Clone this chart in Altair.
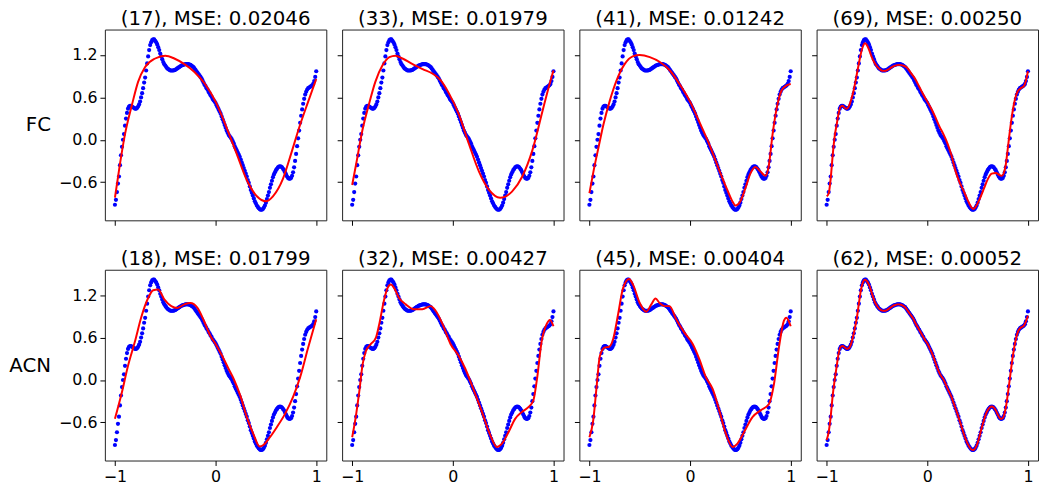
import altair as alt
import numpy as np
import pandas as pd

FONT = "DejaVu Sans"

titles = [
    "(17), MSE: 0.02046", "(33), MSE: 0.01979", "(41), MSE: 0.01242", "(69), MSE: 0.00250",
    "(18), MSE: 0.01799", "(32), MSE: 0.00427", "(45), MSE: 0.00404", "(62), MSE: 0.00052",
]
row_labels = ["FC", "ACN"]
x_ticks = [-1, 0, 1]
y_ticks = [-0.6, 0.0, 0.6, 1.2]

# target function samples (blue dots), x from -1 to 1 step 0.01
blue_y = [
    -0.92, -0.85, -0.74, -0.62, -0.52, -0.36, -0.22, -0.10, 0.00, 0.08,
    0.20, 0.30, 0.38, 0.44, 0.47, 0.48, 0.48, 0.47, 0.46, 0.45,
    0.44, 0.44, 0.45, 0.47, 0.50, 0.54, 0.60, 0.66, 0.73, 0.81,
    0.88, 0.98, 1.08, 1.18, 1.27, 1.34, 1.38, 1.41, 1.42, 1.42,
    1.40, 1.38, 1.35, 1.31, 1.27, 1.22, 1.18, 1.14, 1.10, 1.07,
    1.05, 1.03, 1.01, 1.00, 0.99, 0.98, 0.98, 0.98, 0.98, 0.985,
    0.99, 1.00, 1.01, 1.02, 1.03, 1.04, 1.05, 1.055, 1.06, 1.065,
    1.07, 1.07, 1.07, 1.07, 1.065, 1.06, 1.05, 1.04, 1.03, 1.01,
    0.99, 0.97, 0.95, 0.93, 0.91, 0.89, 0.87, 0.84, 0.81, 0.78,
    0.76, 0.73, 0.71, 0.68, 0.66, 0.63, 0.61, 0.58, 0.56, 0.54,
    0.52, 0.49, 0.46, 0.43, 0.40, 0.37, 0.33, 0.29, 0.25, 0.21,
    0.17, 0.13, 0.10, 0.07, 0.05, 0.03, 0.01, -0.02, -0.05, -0.09,
    -0.12, -0.15, -0.18, -0.21, -0.24, -0.28, -0.32, -0.36, -0.40, -0.44,
    -0.48, -0.52, -0.57, -0.61, -0.66, -0.71, -0.75, -0.79, -0.83, -0.87,
    -0.90, -0.93, -0.95, -0.97, -0.985, -0.99, -0.99, -0.98, -0.96, -0.93,
    -0.89, -0.84, -0.79, -0.74, -0.68, -0.63, -0.58, -0.53, -0.49, -0.46,
    -0.43, -0.41, -0.39, -0.38, -0.375, -0.38, -0.39, -0.41, -0.43, -0.46,
    -0.49, -0.52, -0.54, -0.55, -0.55, -0.54, -0.51, -0.46, -0.39, -0.30,
    -0.20, -0.09, 0.02, 0.13, 0.24, 0.34, 0.43, 0.51, 0.58, 0.64,
    0.68, 0.71, 0.73, 0.74, 0.75, 0.76, 0.77, 0.79, 0.83, 0.89, 0.97,
]
blue_x = np.round(np.linspace(-1, 1, len(blue_y)), 3)

# fitted curves (red)
red1_x = [-1, -0.95, -0.9, -0.83, -0.77, -0.70, -0.60, -0.50, -0.41, -0.31, -0.21, -0.11,
          0, 0.11, 0.21, 0.31, 0.41, 0.50, 0.57, 0.67, 0.75, 0.83, 0.92, 1.0]
red1_y = [-0.82, -0.34, 0.08, 0.50, 0.82, 1.03, 1.15, 1.19, 1.15, 1.07, 0.96, 0.80,
          0.54, 0.17, -0.20, -0.57, -0.80, -0.87, -0.80, -0.55, -0.20, 0.17, 0.54, 0.86]

red2_x = [-1, -0.96, -0.90, -0.83, -0.77, -0.70, -0.63, -0.57, -0.50, -0.40, -0.30, -0.20,
          -0.12, -0.04, 0.06, 0.16, 0.26, 0.36, 0.47, 0.59, 0.69, 0.79, 0.89, 0.95, 1.0]
red2_y = [-0.64, -0.34, 0.125, 0.52, 0.82, 1.05, 1.17, 1.19, 1.15, 1.07, 1.0, 0.935,
          0.84, 0.66, 0.36, -0.06, -0.45, -0.71, -0.82, -0.73, -0.52, -0.15, 0.40, 0.73, 0.98]

red3_x = [-1, -0.96, -0.91, -0.86, -0.80, -0.73, -0.65, -0.57, -0.50, -0.40, -0.30, -0.20,
          -0.11, 0, 0.09, 0.19, 0.29, 0.37, 0.42, 0.45, 0.50, 0.55, 0.60, 0.65, 0.70, 0.75,
          0.78, 0.82, 0.86, 0.91, 0.96, 1.0]
red3_y = [-0.755, -0.45, -0.11, 0.22, 0.54, 0.84, 1.07, 1.18, 1.20, 1.17, 1.10, 0.98,
          0.80, 0.54, 0.26, -0.06, -0.43, -0.71, -0.87, -0.93, -0.87, -0.685, -0.476, -0.385,
          -0.45, -0.51, -0.385, 0.08, 0.44, 0.70, 0.77, 0.79]

red4_x = [-1.0, -0.98, -0.96, -0.94, -0.92, -0.90, -0.88, -0.86, -0.84, -0.82, -0.80, -0.78,
          -0.76, -0.74, -0.72, -0.70, -0.68, -0.66, -0.64, -0.62, -0.60, -0.58, -0.56, -0.54,
          -0.52, -0.50, -0.48, -0.46, -0.44, -0.42, -0.40, -0.36, -0.32, -0.28, -0.24, -0.20,
          -0.16, -0.12, -0.08, -0.04, 0.0, 0.04, 0.08, 0.12, 0.16, 0.20, 0.24, 0.28, 0.32,
          0.36, 0.40, 0.44, 0.46, 0.48, 0.52, 0.56, 0.60, 0.64, 0.68, 0.72, 0.74, 0.76, 0.78,
          0.80, 0.82, 0.84, 0.86, 0.88, 0.90, 0.92, 0.94, 0.96, 0.98, 1.0]
red4_y = [-0.80, -0.76, -0.55, -0.22, 0.05, 0.22, 0.38, 0.47, 0.48, 0.45, 0.44, 0.47,
          0.55, 0.65, 0.78, 0.93, 1.08, 1.22, 1.32, 1.365, 1.34, 1.28, 1.20, 1.13,
          1.08, 1.04, 1.01, 0.985, 0.975, 0.975, 0.985, 1.02, 1.05, 1.06, 1.05, 1.02,
          0.94, 0.86, 0.75, 0.64, 0.54, 0.44, 0.32, 0.19, 0.08, -0.05, -0.22, -0.44, -0.60,
          -0.72, -0.85, -0.96, -0.98, -0.95, -0.84, -0.70, -0.56, -0.48, -0.47, -0.50, -0.51,
          -0.47, -0.35, -0.12, 0.12, 0.33, 0.50, 0.62, 0.69, 0.72, 0.74, 0.76, 0.84, 0.97]

red5_x = [-1, -0.935, -0.87, -0.80, -0.74, -0.67, -0.62, -0.57, -0.51, -0.44, -0.38, -0.31,
          -0.25, -0.18, -0.115, -0.05, 0, 0.066, 0.13, 0.18, 0.25, 0.31, 0.38, 0.436, 0.475,
          0.54, 0.61, 0.69, 0.77, 0.84, 0.92, 1.0]
red5_y = [-0.55, -0.20, 0.20, 0.55, 0.88, 1.16, 1.27, 1.28, 1.14, 1.045, 1.02, 1.07,
          1.09, 1.02, 0.835, 0.62, 0.51, 0.34, 0.155, 0.014, -0.24, -0.525, -0.78, -0.94, -0.92,
          -0.81, -0.665, -0.48, -0.24, 0.04, 0.46, 0.86]

red6_x = [-1, -0.962, -0.93, -0.896, -0.863, -0.814, -0.764, -0.731, -0.682, -0.649, -0.616,
          -0.583, -0.534, -0.468, -0.386, -0.303, -0.22, -0.171, -0.105, -0.023, 0.059, 0.125,
          0.191, 0.29, 0.372, 0.438, 0.488, 0.554, 0.619, 0.685, 0.751, 0.80, 0.834, 0.883,
          0.932, 0.965, 1.0]
red6_y = [-0.81, -0.50, -0.17, 0.225, 0.41, 0.51, 0.60, 0.79, 1.14, 1.30, 1.35,
          1.30, 1.16, 1.07, 1.0, 1.0, 1.045, 0.98, 0.80, 0.51, 0.34, 0.155,
          -0.08, -0.455, -0.78, -0.947, -0.90, -0.736, -0.55, -0.455, -0.385, -0.29, -0.01, 0.55,
          0.79, 0.85, 0.76]

red7_x = [-1, -0.962, -0.929, -0.896, -0.847, -0.804, -0.764, -0.715, -0.666, -0.606, -0.567,
          -0.50, -0.435, -0.385, -0.343, -0.303, -0.254, -0.204, -0.138, -0.056, 0.026, 0.092,
          0.158, 0.224, 0.29, 0.356, 0.422, 0.471, 0.537, 0.62, 0.702, 0.784, 0.834, 0.883,
          0.932, 0.956, 1.0]
red7_y = [-0.81, -0.57, -0.10, 0.34, 0.46, 0.47, 0.58, 0.93, 1.30, 1.43, 1.35,
          1.09, 0.966, 1.07, 1.153, 1.09, 1.045, 1.045, 0.86, 0.67, 0.51, 0.295,
          0.0375, -0.127, -0.43, -0.76, -0.947, -0.90, -0.736, -0.525, -0.43, -0.34, -0.056, 0.46,
          0.835, 0.88, 0.76]

# panel 8 fit, x from -1 to 1 step 0.02
red8_y = [-0.85, -0.74, -0.52, -0.22, 0.00, 0.20, 0.38, 0.47, 0.48, 0.46,
          0.44, 0.45, 0.50, 0.60, 0.73, 0.88, 1.08, 1.27, 1.38, 1.42,
          1.40, 1.35, 1.27, 1.18, 1.10, 1.05, 1.01, 0.99, 0.98, 0.98,
          0.99, 1.01, 1.03, 1.05, 1.06, 1.07, 1.07, 1.065, 1.05, 1.03,
          0.99, 0.95, 0.91, 0.87, 0.81, 0.76, 0.71, 0.66, 0.61, 0.56,
          0.52, 0.46, 0.40, 0.33, 0.25, 0.17, 0.10, 0.05, 0.01, -0.05,
          -0.12, -0.18, -0.24, -0.32, -0.40, -0.48, -0.57, -0.66, -0.75, -0.83,
          -0.90, -0.95, -0.985, -0.99, -0.96, -0.89, -0.79, -0.68, -0.58, -0.49,
          -0.43, -0.39, -0.375, -0.39, -0.43, -0.49, -0.54, -0.55, -0.51, -0.39,
          -0.20, 0.02, 0.24, 0.43, 0.58, 0.68, 0.73, 0.75, 0.77, 0.83, 0.91]
red8_x = np.round(np.linspace(-1, 1, len(red8_y)), 3)

reds = [
    (red1_x, red1_y), (red2_x, red2_y), (red3_x, red3_y), (red4_x, red4_y),
    (red5_x, red5_y), (red6_x, red6_y), (red7_x, red7_y), (list(red8_x), red8_y),
]

blue_df = pd.DataFrame({"x": blue_x, "y": blue_y})

W, H = 224, 193
xscale = alt.Scale(domain=[-1.1, 1.1], nice=False, zero=False)
yscale = alt.Scale(domain=[-1.14, 1.56], nice=False, zero=False)


def make_panel(i):
    row, col = divmod(i, 4)
    xaxis = alt.Axis(
        values=x_ticks, labels=(row == 1), ticks=True, tickSize=5, tickColor="black",
        tickWidth=1, domain=False, grid=False, labelFontSize=16, labelFont=FONT,
        labelColor="black", labelPadding=3,
        labelExpr="replace(datum.label, '-', '\u2212')", title=None,
    )
    if col == 0:
        yaxis = alt.Axis(
            values=y_ticks, format=".1f", labels=True, ticks=True, tickSize=5,
            tickColor="black", tickWidth=1, domain=False, grid=False, labelFontSize=16,
            labelFont=FONT, labelColor="black", labelPadding=3,
            labelExpr="replace(datum.label, '-', '\u2212')",
            title=row_labels[row], titleAngle=0, titleX=-55, titleY=H / 2,
            titleAlign="right", titleBaseline="middle", titleFontSize=20,
            titleFont=FONT, titleFontWeight="normal", titleColor="black",
        )
    else:
        yaxis = alt.Axis(
            values=y_ticks, labels=False, ticks=True, tickSize=5, tickColor="black",
            tickWidth=1, domain=False, grid=False, title=None,
        )
    rx, ry = reds[i]
    red_df = pd.DataFrame({"x": rx, "y": ry})
    pts = alt.Chart(blue_df).mark_circle(size=18, color="#0000ff", opacity=1).encode(
        x=alt.X("x:Q", scale=xscale, axis=xaxis),
        y=alt.Y("y:Q", scale=yscale, axis=yaxis),
    )
    line = alt.Chart(red_df).mark_line(color="#ff0000", strokeWidth=2, interpolate="monotone").encode(
        x=alt.X("x:Q", scale=xscale, axis=xaxis),
        y=alt.Y("y:Q", scale=yscale, axis=yaxis),
    )
    return alt.layer(pts, line).properties(
        width=W, height=H,
        title=alt.TitleParams(text=titles[i], fontSize=20, font=FONT, fontWeight="normal",
                              color="black", offset=1, anchor="middle"),
    )


chart = alt.concat(
    *[make_panel(i) for i in range(8)],
    columns=4, spacing={"row": 50, "column": 16}, bounds="flush",
).properties(
    padding={"left": 0, "top": -3, "right": 0, "bottom": 0},
    background="white",
).configure_view(stroke="#222222", strokeWidth=1)

chart.save("out.html", embed_options={"renderer": "svg", "actions": False})
